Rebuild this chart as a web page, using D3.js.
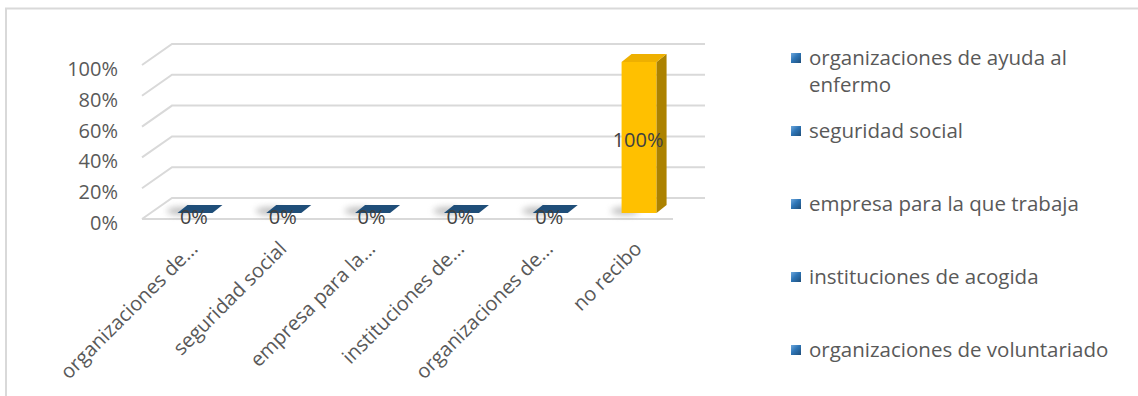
<!DOCTYPE html>
<html>
<head>
<meta charset="utf-8">
<script src="https://cdn.jsdelivr.net/npm/d3@7"></script>
<style>
  html, body { margin: 0; padding: 0; background: #ffffff; }
  svg { display: block; }
  text { font-family: "Open Sans", "Noto Sans", sans-serif; }
</style>
</head>
<body>
<svg id="chart" width="1138" height="396"></svg>
<script>
// ---- data ----
const categories = [
  "organizaciones de ayuda al enfermo",
  "seguridad social",
  "empresa para la que trabaja",
  "instituciones de acogida",
  "organizaciones de voluntariado",
  "no recibo"
];
const axisLabels = [
  "organizaciones de...",
  "seguridad social",
  "empresa para la...",
  "instituciones de...",
  "organizaciones de...",
  "no recibo"
];
const values = [0, 0, 0, 0, 0, 1];
const dataLabels = ["0%", "0%", "0%", "0%", "0%", "100%"];
const pointColors = ["#1f4e79", "#1f4e79", "#1f4e79", "#1f4e79", "#1f4e79", "#ffc000"];
const yTicks = [0, 0.2, 0.4, 0.6, 0.8, 1];
const legendLines = [
  ["organizaciones de ayuda al", "enfermo"],
  ["seguridad social"],
  ["empresa para la que trabaja"],
  ["instituciones de acogida"],
  ["organizaciones de voluntariado"]
];

// ---- layout ----
const svg = d3.select("#chart");
const DX = -30, DY = 21;          // depth offset of the floor/wall (back -> front)
const wallX0 = 172, wallX1 = 705;
const BAR_DX = -21.5;             // bar front plane offset from back wall
const yBack = d3.scaleLinear().domain([0, 1]).range([198, 44]);
const yBar = d3.scaleLinear().domain([0, 1]).range([213, 62]);
const xBand = d3.scaleBand().domain(categories).range([wallX0, wallX1]);
const fc = c => xBand(c) + xBand.bandwidth() / 2 + BAR_DX;   // front-face centre
const barW = 35, sideDX = 10, sideDY = -8;

// defs
const defs = svg.append("defs");
defs.append("filter").attr("id", "blur").attr("x", "-50%").attr("y", "-200%").attr("width", "200%").attr("height", "500%")
  .append("feGaussianBlur").attr("stdDeviation", 3);
const lg = defs.append("linearGradient").attr("id", "legGrad").attr("x1", 0).attr("y1", 0).attr("x2", 1).attr("y2", 1);
lg.append("stop").attr("offset", "0%").attr("stop-color", "#6fa8dc");
lg.append("stop").attr("offset", "45%").attr("stop-color", "#2e75b6");
lg.append("stop").attr("offset", "100%").attr("stop-color", "#1f4e79");

// chart border
svg.append("path").attr("d", "M6,396 L6,8.5 L1138,8.5")
  .attr("fill", "none").attr("stroke", "#d9d9d9").attr("stroke-width", 2);

// gridlines (back wall + left side wall)
const grid = svg.append("g");
yTicks.forEach(t => {
  const y = yBack(t);
  grid.append("path")
    .attr("d", `M${wallX0 + DX},${y + DY} L${wallX0},${y} L${wallX1},${y}`)
    .attr("fill", "none").attr("stroke", "#d9d9d9").attr("stroke-width", 2);
});
// floor front edge
grid.append("line")
  .attr("x1", wallX0 + DX).attr("x2", wallX1 + DX - 2)
  .attr("y1", yBack(0) + DY).attr("y2", yBack(0) + DY)
  .attr("stroke", "#d9d9d9").attr("stroke-width", 2);

// y tick labels
svg.append("g").selectAll("text").data(yTicks).join("text")
  .attr("x", 118).attr("y", t => yBack(t) + DY + 4)
  .attr("dy", "0.35em")
  .attr("text-anchor", "end")
  .attr("font-size", 20).attr("fill", "#595959")
  .text(t => d3.format(".0%")(t));

// shadows
svg.append("g").selectAll("ellipse").data(categories).join("ellipse")
  .attr("cx", c => fc(c) - 14).attr("cy", yBar(0) - 2)
  .attr("rx", 14).attr("ry", 4)
  .attr("fill", "#8c8c8c").attr("opacity", 0.55)
  .attr("filter", "url(#blur)");

// bars
const bars = svg.append("g");
categories.forEach((c, i) => {
  const v = values[i];
  const x0 = fc(c) - barW / 2, x1 = fc(c) + barW / 2;
  const yb = yBar(0), yt = yBar(v);
  const col = d3.color(pointColors[i]);
  if (v > 0) {
    bars.append("rect").attr("x", x0).attr("y", yt).attr("width", barW).attr("height", yb - yt)
      .attr("fill", col.formatHex());
    bars.append("path")
      .attr("d", `M${x1},${yt} L${x1 + sideDX},${yt + sideDY} L${x1 + sideDX},${yb + sideDY} L${x1},${yb} Z`)
      .attr("fill", col.darker(1.1).formatHex());
  }
  bars.append("path")
    .attr("d", `M${x0},${yt} L${x1},${yt} L${x1 + sideDX},${yt + sideDY} L${x0 + sideDX},${yt + sideDY} Z`)
    .attr("fill", v > 0 ? "#eeb000" : col.formatHex());
});

// data labels
svg.append("g").selectAll("text").data(categories).join("text")
  .attr("x", c => fc(c) - 1)
  .attr("y", (c, i) => values[i] > 0 ? (yBar(0) + yBar(values[i])) / 2 + 2 : yBar(0) + 4)
  .attr("dy", "0.35em")
  .attr("text-anchor", "middle")
  .attr("font-size", 20).attr("fill", "#404040")
  .text((c, i) => dataLabels[i]);

// x axis labels, rotated
svg.append("g").selectAll("text").data(categories).join("text")
  .attr("transform", c => `translate(${fc(c) + 4},250) rotate(-45)`)
  .attr("text-anchor", "end")
  .attr("font-size", 20).attr("fill", "#595959")
  .text((c, i) => axisLabels[i]);

// legend
const leg = svg.append("g");
const legRow = d3.scaleLinear().domain([0, 4]).range([58, 350]);
legendLines.forEach((lines, i) => {
  const yc = legRow(i);
  leg.append("rect").attr("x", 791).attr("y", yc - 5).attr("width", 10).attr("height", 10)
    .attr("fill", "url(#legGrad)");
  lines.forEach((ln, j) => {
    leg.append("text").attr("x", 809).attr("y", yc + j * 27)
      .attr("dy", "0.35em").attr("font-size", 20.5).attr("fill", "#595959")
      .text(ln);
  });
});
</script>
</body>
</html>
